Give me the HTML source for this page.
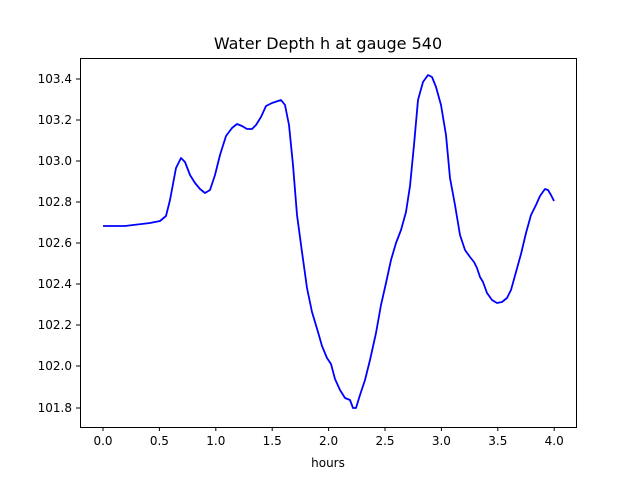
<!DOCTYPE html>
<html><head><style>body{margin:0;background:#fff}svg{display:block}text{font-family:"DejaVu Sans","Liberation Sans",sans-serif;fill:#000}</style></head>
<body>
<svg width="640" height="480" viewBox="0 0 640 480">
<rect width="640" height="480" fill="#fff"/>
<text x="328" y="49" font-size="16" text-anchor="middle">Water Depth h at gauge 540</text>
<polyline fill="none" stroke="#0000ff" stroke-width="1.8" stroke-linejoin="round" points="103,226 125,226 150,223 160,221 166,216 170,200 176,168 181,158 185,162 190,175 195,183 200,189 205,193 210,190 215,175 220,155 226,136 232,128 237,124 242,126 247,129 252,129 256,125 261,117 266,106 272,103 278,101 281,100 285,105 289,125 293,165 297,215 302,252 307,288 312,312 318,332 322,346 327,358 331,364 335,379 340,390 345,398 350,400 353,408 356,408 360,395 365,380 370,360 376,333 381,305 386,283 391,260 396,243 401,230 406,212 410,186 414,145 418,100 423,82 428,75 432,77 436,87 441,105 446,135 450,178 455,205 460,235 465,250 470,257 474,262 477,268 480,277 483,282 487,293 492,300 497,303 502,302 507,298 511,290 516,272 521,254 526,233 531,215 536,205 540,196 545,189 548,190 551,195 554,201"/>
<rect x="80.5" y="58.5" width="496" height="369" fill="none" stroke="#000" stroke-width="1"/>
<g stroke="#000" stroke-width="1">
<line x1="103" y1="427" x2="103" y2="431"/><line x1="159.4" y1="427" x2="159.4" y2="431"/><line x1="215.8" y1="427" x2="215.8" y2="431"/><line x1="272.2" y1="427" x2="272.2" y2="431"/><line x1="328.6" y1="427" x2="328.6" y2="431"/><line x1="385" y1="427" x2="385" y2="431"/><line x1="441.4" y1="427" x2="441.4" y2="431"/><line x1="497.8" y1="427" x2="497.8" y2="431"/><line x1="554.2" y1="427" x2="554.2" y2="431"/>
<line x1="76" y1="79" x2="80" y2="79"/><line x1="76" y1="120" x2="80" y2="120"/><line x1="76" y1="161" x2="80" y2="161"/><line x1="76" y1="202" x2="80" y2="202"/><line x1="76" y1="243" x2="80" y2="243"/><line x1="76" y1="284" x2="80" y2="284"/><line x1="76" y1="325" x2="80" y2="325"/><line x1="76" y1="366" x2="80" y2="366"/><line x1="76" y1="408" x2="80" y2="408"/>
</g>
<g font-size="12" text-anchor="middle">
<text x="103" y="445">0.0</text><text x="159.4" y="445">0.5</text><text x="215.8" y="445">1.0</text><text x="272.2" y="445">1.5</text><text x="328.6" y="445">2.0</text><text x="385" y="445">2.5</text><text x="441.4" y="445">3.0</text><text x="497.8" y="445">3.5</text><text x="554.2" y="445">4.0</text>
<text x="328" y="467">hours</text>
</g>
<g font-size="12" text-anchor="end">
<text x="72" y="83">103.4</text><text x="72" y="124">103.2</text><text x="72" y="165">103.0</text><text x="72" y="206">102.8</text><text x="72" y="247">102.6</text><text x="72" y="288">102.4</text><text x="72" y="329">102.2</text><text x="72" y="370">102.0</text><text x="72" y="412">101.8</text>
</g>
</svg>
</body></html>
